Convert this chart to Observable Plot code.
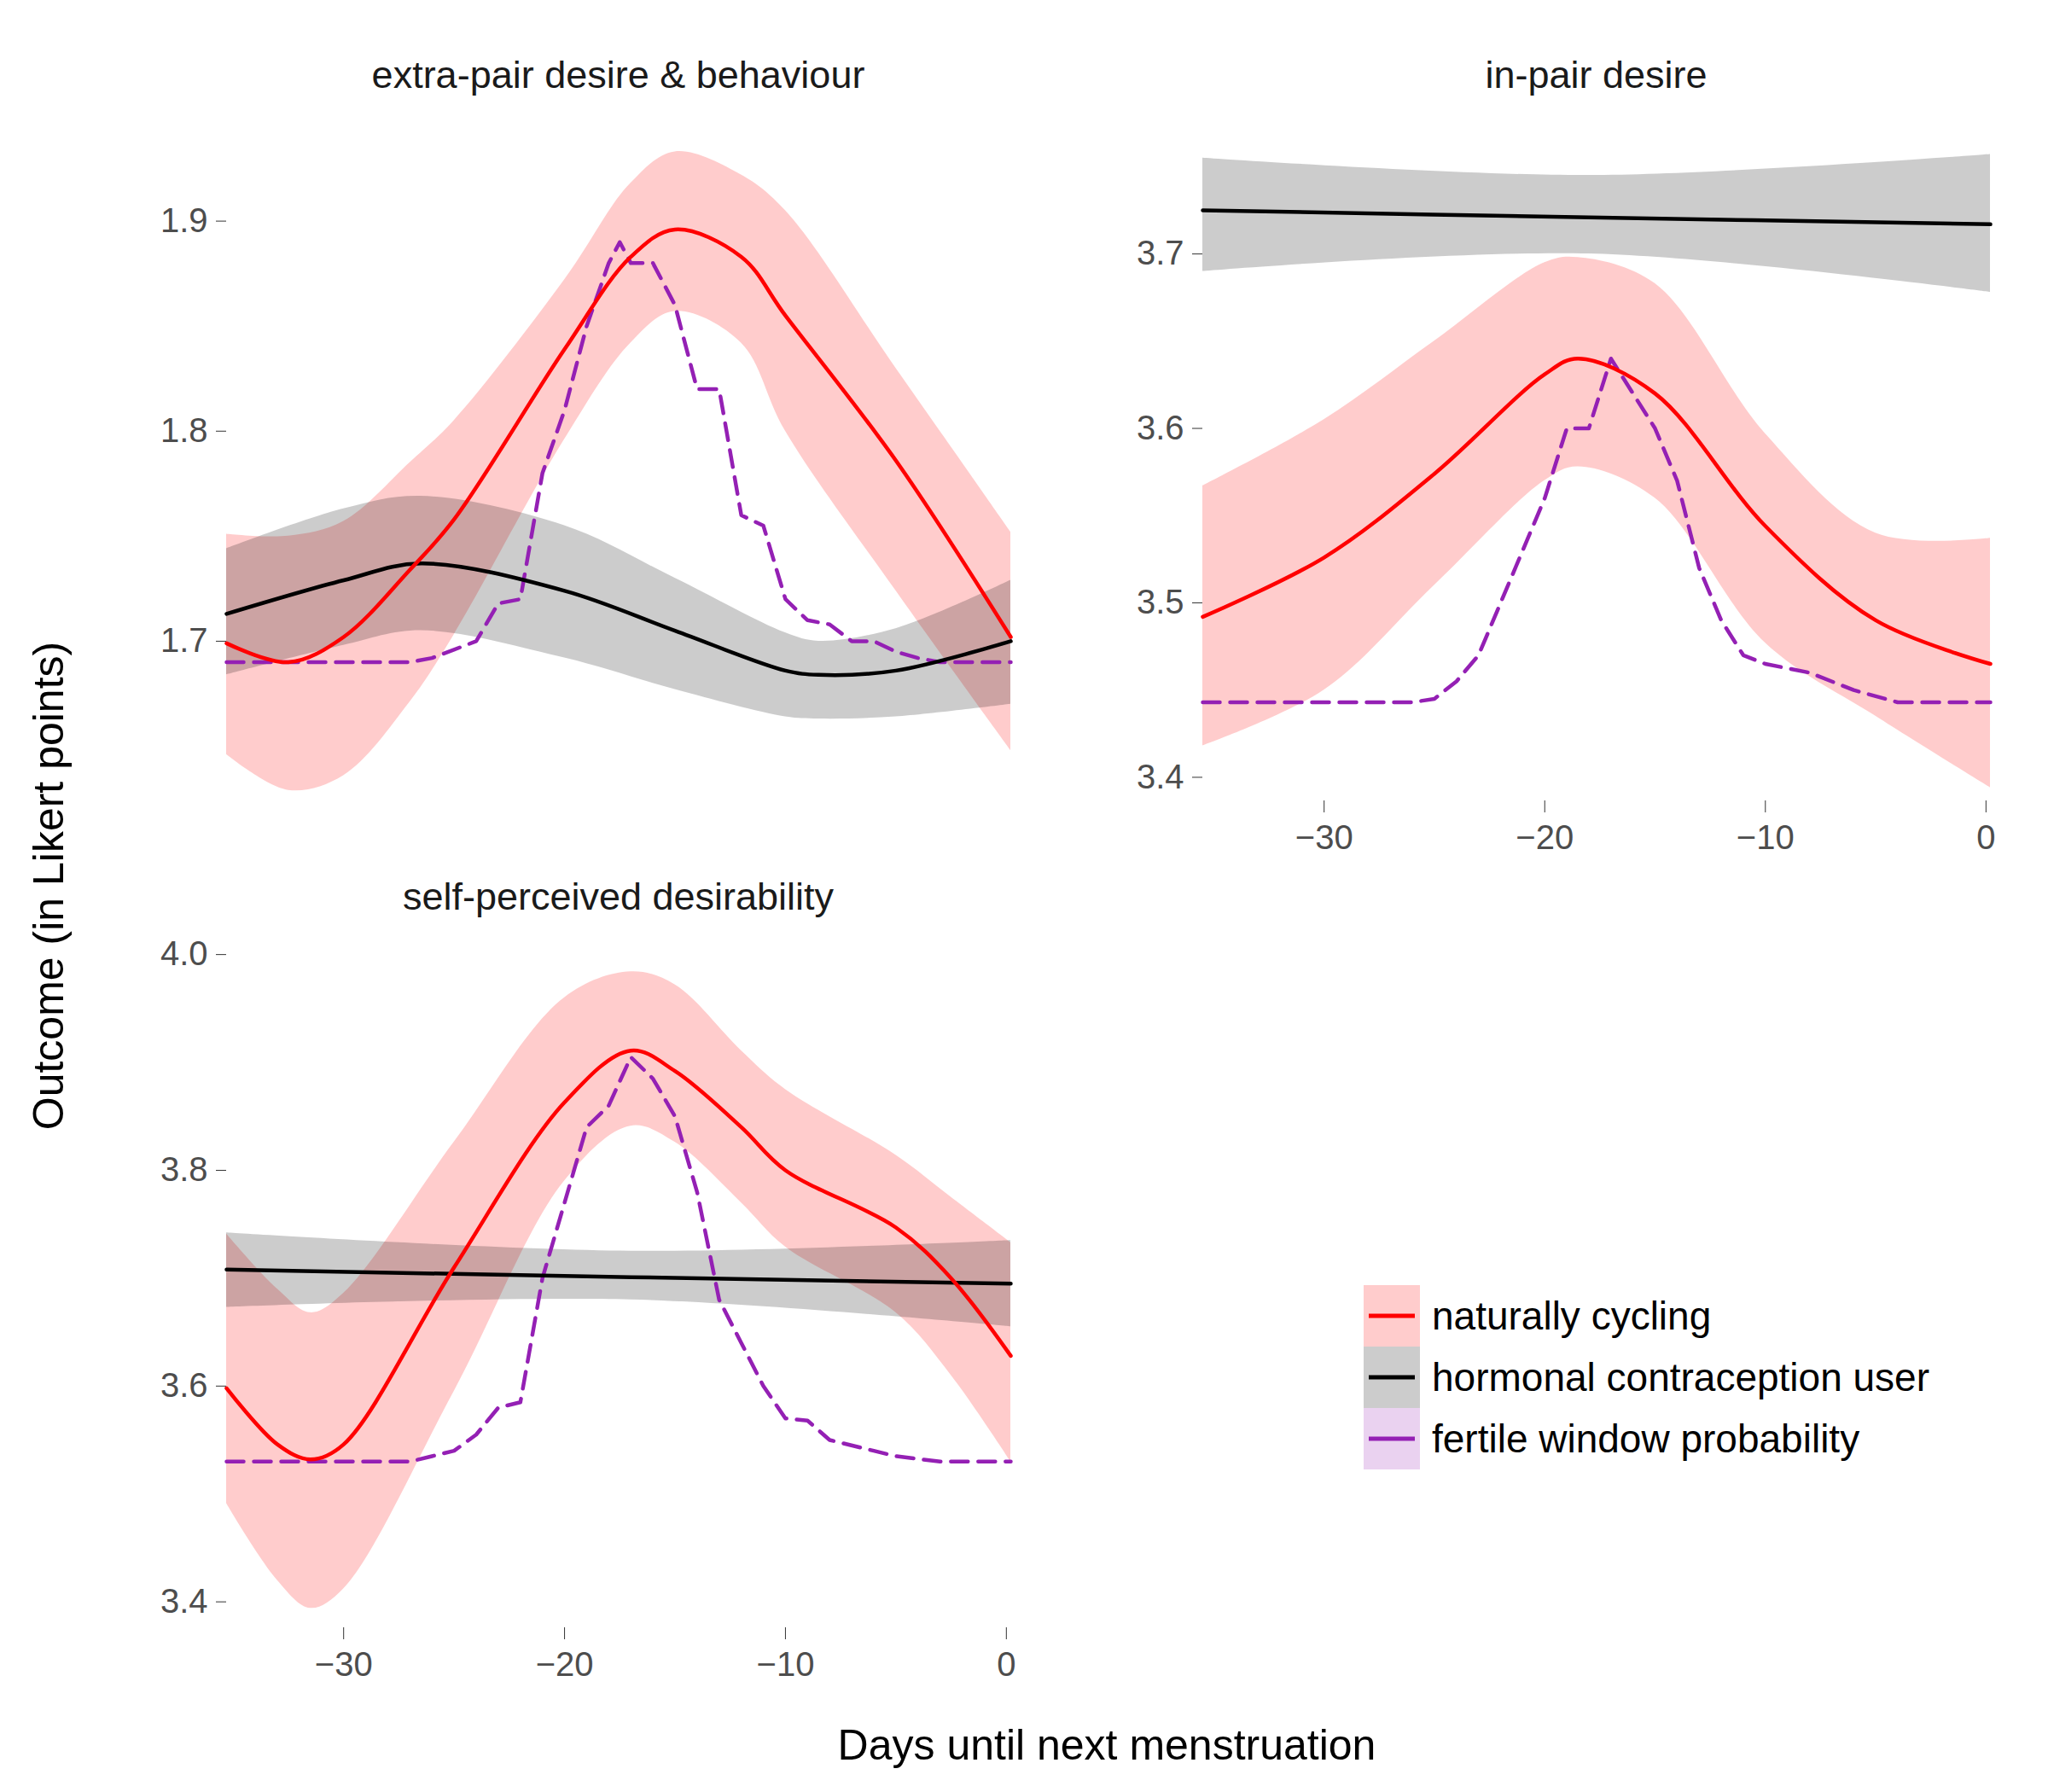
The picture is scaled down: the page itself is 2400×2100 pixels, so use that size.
<!DOCTYPE html>
<html>
<head>
<meta charset="utf-8">
<script src="https://cdn.jsdelivr.net/npm/d3@7"></script>
<script src="https://cdn.jsdelivr.net/npm/@observablehq/plot@0.6"></script>
<style>
  body { margin: 0; background: #fff; font-family: "Liberation Sans", Arial, sans-serif; }
  #wrap { position: relative; width: 2400px; height: 2100px; }
  .abs { position: absolute; }
  .ftitle { position: absolute; font-size: 45px; color: #1a1a1a; transform: translateX(-50%); white-space: nowrap; }
  .lg { position: absolute; font-size: 46px; color: #000; display: flex; align-items: center; }
  .lg svg { margin-right: 14px; }
</style>
</head>
<body>
<div id="wrap"></div>
<script>
// --- extra-pair desire & behaviour
var epDays = [-35.3, -32.5, -30, -27, -25, -20, -17, -15, -12, -10, -5, 0.2];
var epNC = [1.699, 1.69, 1.702, 1.734, 1.758, 1.839, 1.883, 1.896, 1.883, 1.855, 1.786, 1.702];
var epNCHi = [1.751, 1.75, 1.757, 1.785, 1.805, 1.872, 1.918, 1.933, 1.922, 1.905, 1.83, 1.752];
var epNCLo = [1.646, 1.629, 1.636, 1.671, 1.703, 1.796, 1.842, 1.857, 1.842, 1.80, 1.724, 1.648];
var epHCDays = [-35.3, -30, -26.5, -20, -15, -10, -8.5, -5, 0.2];
var epHC = [1.713, 1.729, 1.737, 1.724, 1.705, 1.686, 1.684, 1.686, 1.70];
var epHCHi = [1.744, 1.763, 1.769, 1.755, 1.73, 1.704, 1.70, 1.706, 1.729];
var epHCLo = [1.684, 1.698, 1.705, 1.692, 1.677, 1.664, 1.663, 1.664, 1.67];
var epFWDays = [-35.3, -27, -26, -24, -23, -22, -21, -20, -19, -18, -17.5, -17, -16, -15, -14, -13, -12, -11, -10, -9, -8, -7, -6, -5, -4, -3, 0.2];
var epFW = [1.69, 1.69, 1.692, 1.70, 1.718, 1.72, 1.78, 1.81, 1.85, 1.88, 1.89, 1.88, 1.88, 1.86, 1.82, 1.82, 1.76, 1.755, 1.72, 1.71, 1.708, 1.70, 1.70, 1.695, 1.692, 1.69, 1.69];

// --- in-pair desire
var ipDays = [-35.5, -30, -25, -20, -18.5, -15, -10, -5, 0.2];
var ipNC = [3.492, 3.526, 3.574, 3.631, 3.64, 3.62, 3.544, 3.49, 3.465];
var ipNCHi = [3.567, 3.605, 3.65, 3.695, 3.698, 3.683, 3.597, 3.54, 3.537];
var ipNCLo = [3.418, 3.45, 3.51, 3.57, 3.578, 3.56, 3.477, 3.435, 3.394];
var ipHCDays = [-35.5, -18, 0.2];
var ipHC = [3.725, 3.721, 3.717];
var ipHCHi = [3.755, 3.745, 3.757];
var ipHCLo = [3.69, 3.70, 3.678];
var ipFWDays = [-35.5, -26, -25, -24, -23, -22, -21, -20, -19, -18, -17, -16, -15, -14, -13, -12, -11, -10, -8, -6, -4, 0.2];
var ipFW = [3.443, 3.443, 3.445, 3.455, 3.47, 3.50, 3.53, 3.56, 3.60, 3.60, 3.64, 3.62, 3.60, 3.57, 3.52, 3.49, 3.47, 3.465, 3.46, 3.45, 3.443, 3.443];

// --- self-perceived desirability
var spDays = [-35.3, -33, -31.5, -30, -25, -20, -17, -15, -12, -10, -5, -2.5, 0.2];
var spNC = [3.598, 3.546, 3.532, 3.546, 3.71, 3.863, 3.911, 3.892, 3.84, 3.80, 3.747, 3.70, 3.628];
var spNCHi = [3.741, 3.69, 3.668, 3.686, 3.826, 3.96, 3.984, 3.972, 3.911, 3.875, 3.814, 3.775, 3.733];
var spNCLo = [3.491, 3.42, 3.394, 3.412, 3.595, 3.79, 3.841, 3.826, 3.77, 3.729, 3.668, 3.61, 3.53];
var spHCDays = [-35.3, -17, 0.2];
var spHC = [3.708, 3.701, 3.695];
var spHCHi = [3.742, 3.725, 3.735];
var spHCLo = [3.673, 3.68, 3.655];
var spFWDays = [-35.3, -27, -26, -25, -24, -23, -22, -21, -20, -19, -18, -17, -16, -15, -14, -13, -12, -11, -10, -9, -8, -6, -5, -3, 0.2];
var spFW = [3.53, 3.53, 3.535, 3.54, 3.555, 3.58, 3.585, 3.70, 3.77, 3.84, 3.86, 3.905, 3.885, 3.85, 3.78, 3.68, 3.64, 3.60, 3.57, 3.568, 3.55, 3.54, 3.535, 3.53, 3.53];

var xTicks = [-30, -20, -10, 0];

var RED = "#ff0000", PURPLE = "#9420b4";
var wrap = document.getElementById("wrap");

function rows(days, mid, hi, lo) {
  return days.map(function(d, i) {
    return { x: d, y: mid[i], hi: hi ? hi[i] : null, lo: lo ? lo[i] : null };
  });
}

function panel(opts) {
  var mL = 140, mR = 10, mT = 10, mB = 100;
  var nc = rows(opts.ncDays, opts.nc, opts.ncHi, opts.ncLo);
  var hc = rows(opts.hcDays, opts.hc, opts.hcHi, opts.hcLo);
  var fw = rows(opts.fwDays, opts.fw);
  var smooth = "catmull-rom";
  var marks = [
    Plot.areaY(nc, { x: "x", y1: "lo", y2: "hi", fill: RED, fillOpacity: 0.2, curve: smooth }),
    Plot.areaY(hc, { x: "x", y1: "lo", y2: "hi", fill: "#000", fillOpacity: 0.2, curve: smooth }),
    Plot.line(fw, { x: "x", y: "y", stroke: PURPLE, strokeWidth: 4.5, strokeDasharray: "20,12" }),
    Plot.line(hc, { x: "x", y: "y", stroke: "#000", strokeWidth: 4.5, curve: smooth }),
    Plot.line(nc, { x: "x", y: "y", stroke: RED, strokeWidth: 4.5, curve: smooth }),
    Plot.axisY({ ticks: opts.yTicks, tickFormat: ".1f", tickSize: 12, tickPadding: 10, label: null, fontSize: 40, stroke: "#333" })
  ];
  if (opts.xAxis) {
    marks.push(Plot.axisX({ ticks: xTicks, tickFormat: "d", tickSize: 14, tickPadding: 14, label: null, fontSize: 40, stroke: "#333" }));
  }
  var chart = Plot.plot({
    width: opts.w + mL + mR,
    height: opts.h + mT + mB,
    marginLeft: mL, marginRight: mR, marginTop: mT, marginBottom: mB,
    x: { domain: opts.xDomain, axis: null },
    y: { domain: opts.yDomain, axis: null },
    style: { fontFamily: "Liberation Sans, Arial, sans-serif", color: "#4d4d4d", background: "transparent", overflow: "visible" },
    marks: marks
  });
  chart.classList.add("abs");
  chart.style.left = (opts.left - mL) + "px";
  chart.style.top = (opts.top - mT) + "px";
  wrap.appendChild(chart);

  var t = document.createElement("div");
  t.className = "ftitle";
  t.textContent = opts.title;
  t.style.left = (opts.left + opts.w / 2) + "px";
  t.style.top = opts.titleTop + "px";
  wrap.appendChild(t);
}

panel({
  title: "extra-pair desire & behaviour", left: 265, top: 154, w: 919, h: 784, titleTop: 62,
  xDomain: [-35.3, 0.2], yDomain: [1.624, 1.9425], yTicks: [1.7, 1.8, 1.9], xAxis: false,
  ncDays: epDays, nc: epNC, ncHi: epNCHi, ncLo: epNCLo,
  hcDays: epHCDays, hc: epHC, hcHi: epHCHi, hcLo: epHCLo,
  fwDays: epFWDays, fw: epFW
});
panel({
  title: "in-pair desire", left: 1409, top: 154, w: 923, h: 784, titleTop: 62,
  xDomain: [-35.5, 0.2], yDomain: [3.3865, 3.770], yTicks: [3.4, 3.5, 3.6, 3.7], xAxis: true,
  ncDays: ipDays, nc: ipNC, ncHi: ipNCHi, ncLo: ipNCLo,
  hcDays: ipHCDays, hc: ipHC, hcHi: ipHCHi, hcLo: ipHCLo,
  fwDays: ipFWDays, fw: ipFW
});
panel({
  title: "self-perceived desirability", left: 265, top: 1084, w: 919, h: 823, titleTop: 1025,
  xDomain: [-35.3, 0.2], yDomain: [3.376, 4.027], yTicks: [3.4, 3.6, 3.8, 4.0], xAxis: true,
  ncDays: spDays, nc: spNC, ncHi: spNCHi, ncLo: spNCLo,
  hcDays: spHCDays, hc: spHC, hcHi: spHCHi, hcLo: spHCLo,
  fwDays: spFWDays, fw: spFW
});

// axis titles
var yl = document.createElement("div");
yl.textContent = "Outcome (in Likert points)";
yl.style.cssText = "position:absolute;left:57px;top:1038px;font-size:50px;white-space:nowrap;transform:translate(-50%,-50%) rotate(-90deg);";
wrap.appendChild(yl);
var xl = document.createElement("div");
xl.textContent = "Days until next menstruation";
xl.style.cssText = "position:absolute;left:1297px;top:2045px;font-size:50px;white-space:nowrap;transform:translate(-50%,-50%);";
wrap.appendChild(xl);

// legend
var legendLabels = ["naturally cycling", "hormonal contraception user", "fertile window probability"];
var legendFill = ["#ffcccc", "#cccccc", "#ead2f0"];
var legendStroke = [RED, "#000", PURPLE];
legendLabels.forEach(function(lab, i) {
  var d = document.createElement("div");
  d.className = "lg";
  d.style.left = "1598px";
  d.style.top = (1506 + i * 72) + "px";
  d.innerHTML = '<svg width="66" height="72"><rect x="0" y="0" width="66" height="72" fill="' + legendFill[i] +
    '"/><line x1="6" x2="60" y1="36" y2="36" stroke="' + legendStroke[i] + '" stroke-width="5"/></svg>';
  var s = document.createElement("span");
  s.textContent = lab;
  d.appendChild(s);
  wrap.appendChild(d);
});
</script>
</body>
</html>
